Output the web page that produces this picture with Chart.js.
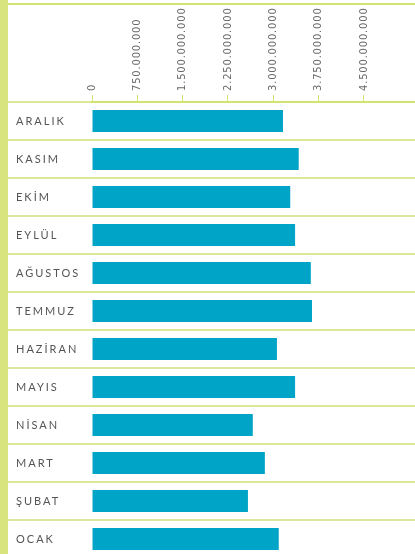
<!DOCTYPE html>
<html>
<head>
<meta charset="utf-8">
<script src="https://cdn.jsdelivr.net/npm/chart.js@4"></script>
<style>
  html, body { margin: 0; padding: 0; background: #fff; }
  #wrap { position: relative; width: 415px; height: 554px; overflow: hidden; }
  #leftBar { position: absolute; left: 0; top: 0; width: 8px; height: 554px; background: #d8e47e; }
  #topLine { position: absolute; left: 8px; top: 3px; width: 407px; height: 2px; background: #d3e36f; }
  canvas { position: absolute; left: 0; top: 0; }
</style>
</head>
<body>
<div id="wrap">
  <div id="leftBar"></div>
  <div id="topLine"></div>
  <canvas id="c" width="415" height="558"></canvas>
</div>
<script>
const months = ['ARALIK', 'KASIM', 'EKİM', 'EYLÜL', 'AĞUSTOS', 'TEMMUZ', 'HAZİRAN', 'MAYIS', 'NİSAN', 'MART', 'ŞUBAT', 'OCAK'];
const amounts = [3160000000, 3420000000, 3280000000, 3360000000, 3620000000, 3640000000, 3060000000, 3360000000, 2660000000, 2860000000, 2580000000, 3090000000];
const tickValues = [0, 750000000, 1500000000, 2250000000, 3000000000, 3750000000, 4500000000];

const lineColor = '#dce89a';
const spacingPlugin = {
  id: 'spacing',
  afterUpdate(chart) {
    const wrap = (scale, sp) => {
      if (scale._spWrapped) return;
      const orig = scale.drawLabels;
      scale.drawLabels = function (area) {
        const ctx = this.ctx;
        ctx.save();
        ctx.letterSpacing = sp;
        orig.call(this, area);
        ctx.restore();
      };
      scale._spWrapped = true;
    };
    wrap(chart.scales.y, '2px');
    wrap(chart.scales.x, '0.8px');
  }
};

new Chart(document.getElementById('c'), {
  type: 'bar',
  data: {
    labels: months,
    datasets: [{
      data: amounts,
      backgroundColor: '#00a4c7',
      borderWidth: 0,
      barPercentage: 0.58,
      categoryPercentage: 1
    }]
  },
  options: {
    indexAxis: 'y',
    responsive: false,
    animation: false,
    layout: { padding: { left: 16, top: 5, right: 0, bottom: 0 } },
    plugins: { legend: { display: false }, tooltip: { enabled: false } },
    scales: {
      x: {
        position: 'top',
        min: 0,
        max: 5344000000,
        afterBuildTicks(scale) { scale.ticks = tickValues.map(v => ({ value: v })); },
        afterFit(scale) { scale.height = 97; scale.paddingLeft = 0; scale.paddingRight = 0; },
        border: { display: true, color: '#d3e36f', width: 2 },
        grid: { drawOnChartArea: false, drawTicks: true, tickLength: 7, color: '#d3e36f', lineWidth: 1 },
        ticks: {
          autoSkip: false,
          minRotation: 90,
          maxRotation: 90,
          padding: 4,
          labelOffset: 12,
          color: '#6a6a6a',
          font: { family: 'DejaVu Sans', size: 10 },
          callback: (v) => Number(v).toLocaleString('tr-TR')
        }
      },
      y: {
        afterFit(scale) { scale.width = 76; scale.paddingTop = 0; scale.paddingBottom = 0; },
        border: { display: false },
        grid: { offset: true, drawOnChartArea: true, drawTicks: true, tickLength: 84, color: lineColor, lineWidth: 2 },
        ticks: {
          crossAlign: 'far',
          padding: 0,
          color: '#555555',
          font: { family: 'Lato', size: 11 }
        }
      }
    }
  },
  plugins: [spacingPlugin]
});
</script>
</body>
</html>
